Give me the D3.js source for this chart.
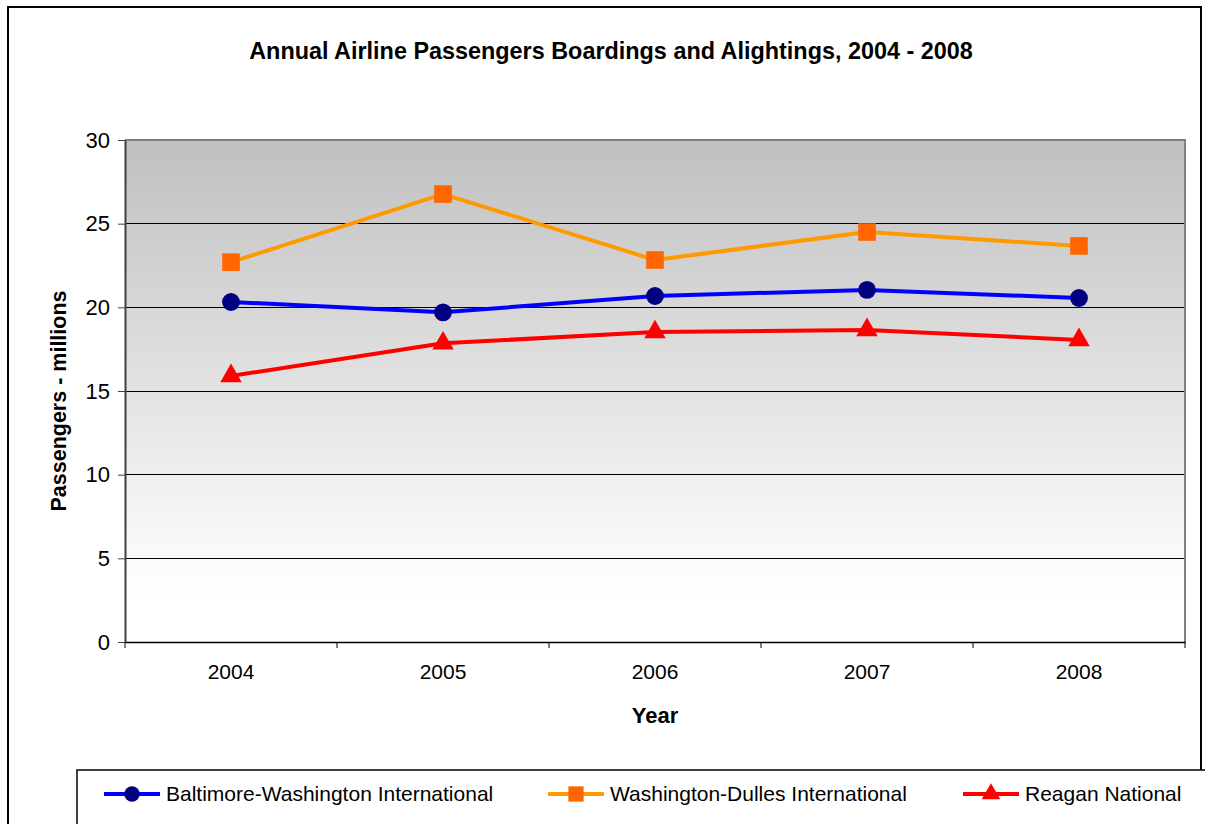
<!DOCTYPE html>
<html><head><meta charset="utf-8">
<script src="https://cdn.jsdelivr.net/npm/d3@7"></script>
<style>body{margin:0;background:#fff;font-family:Arial,"Liberation Sans",sans-serif;}</style>
</head><body><svg id="c" width="1205" height="824"></svg>
<script>
const years = ["2004","2005","2006","2007","2008"];
const bwi = [20.32, 19.70, 20.68, 21.04, 20.56];
const iad = [22.70, 26.77, 22.83, 24.50, 23.67];
const dca = [15.90, 17.85, 18.52, 18.65, 18.05];
const yTicks = [0,5,10,15,20,25,30];
const seriesNames = ["Baltimore-Washington International","Washington-Dulles International","Reagan National"];

const FONT = "Arial,'Liberation Sans',sans-serif";
const svg = d3.select("#c").attr("font-family",FONT);
const L=125, R=1185, T=140, B=642;
const x = d3.scaleBand().domain(years).range([L,R]);
const y = d3.scaleLinear().domain([0,30]).range([B,T]);

// outer border
svg.append("rect").attr("x",8).attr("y",7).attr("width",1193).attr("height",840)
  .attr("fill","#fff").attr("stroke","#000").attr("stroke-width",2);

// gradient
const defs = svg.append("defs");
const g = defs.append("linearGradient").attr("id","bg").attr("x1",0).attr("y1",0).attr("x2",0).attr("y2",1);
g.append("stop").attr("offset",0).attr("stop-color","#c0c0c0");
g.append("stop").attr("offset",0.91).attr("stop-color","#ffffff");
g.append("stop").attr("offset",1).attr("stop-color","#ffffff");
svg.append("rect").attr("x",L).attr("y",T).attr("width",R-L).attr("height",B-T).attr("fill","url(#bg)");

// gridlines
svg.append("g").selectAll("line").data(yTicks.filter(d=>d>0&&d<30)).join("line")
  .attr("x1",L).attr("x2",R).attr("y1",d=>y(d)).attr("y2",d=>y(d))
  .attr("stroke","#000").attr("stroke-width",1).attr("shape-rendering","crispEdges");
// plot border top/right
svg.append("path").attr("d",`M${L},${T}H${R}V${B}`).attr("fill","none")
  .attr("stroke","#808080").attr("stroke-width",2).attr("shape-rendering","crispEdges");

// y axis
const ya = svg.append("g").attr("transform",`translate(${L},0)`)
  .call(d3.axisLeft(y).tickValues(yTicks).tickSize(7).tickPadding(8).tickSizeOuter(0));
ya.select(".domain").attr("stroke","#404040").attr("stroke-width",2);
ya.selectAll(".tick line").attr("stroke","#404040");
ya.selectAll("text").attr("font-size",22).attr("font-family",FONT).attr("fill","#000");

// x axis
const xa = svg.append("g").attr("transform",`translate(0,${B})`)
  .call(d3.axisBottom(x).tickSize(0).tickPadding(22));
xa.select(".domain").attr("stroke","#000").attr("stroke-width",1.5);
xa.selectAll("text").attr("font-size",21).attr("font-family",FONT).attr("fill","#000");
const bounds = years.map(d=>x(d)).concat([R]);
svg.append("g").selectAll("line").data(bounds).join("line")
  .attr("x1",d=>d).attr("x2",d=>d).attr("y1",B).attr("y2",B+6).attr("stroke","#000");

// titles
svg.append("text").attr("x",611).attr("y",59).attr("text-anchor","middle")
  .attr("font-size",23.4).attr("font-weight","bold").text("Annual Airline Passengers Boardings and Alightings, 2004 - 2008");
svg.append("text").attr("x",655).attr("y",723).attr("text-anchor","middle")
  .attr("font-size",22).attr("font-weight","bold").text("Year");
svg.append("text").attr("transform",`translate(66,401) rotate(-90)`).attr("text-anchor","middle")
  .attr("font-size",21.5).attr("font-weight","bold").text("Passengers - millions");

// series
const series = [
  {name:seriesNames[0], vals:bwi, line:"#0000ff", fill:"#000080", sym:d3.symbolCircle, size:250},
  {name:seriesNames[1], vals:iad, line:"#ff9900", fill:"#ff6600", sym:d3.symbolSquare, size:310},
  {name:seriesNames[2], vals:dca, line:"#ff0000", fill:"#ff0000", sym:d3.symbolTriangle, size:200}
];
const cx = d=>x(d)+x.bandwidth()/2;
const lineGen = d3.line().x((v,i)=>cx(years[i])).y(v=>y(v));
series.forEach(s=>{
  svg.append("path").datum(s.vals).attr("d",lineGen).attr("fill","none")
    .attr("stroke",s.line).attr("stroke-width",4).attr("stroke-linejoin","round");
  svg.append("g").selectAll("path").data(s.vals).join("path")
    .attr("d",d3.symbol().type(s.sym).size(s.size))
    .attr("transform",(v,i)=>`translate(${cx(years[i])},${y(v)})`)
    .attr("fill",s.fill);
});

// legend
svg.append("rect").attr("x",77).attr("y",770).attr("width",1140).attr("height",80)
  .attr("fill","#fff").attr("stroke","#000").attr("stroke-width",1.5);
const legX = [104, 548, 963];
const legY = 794;
series.forEach((s,i)=>{
  const lg = svg.append("g").attr("transform",`translate(${legX[i]},${legY})`);
  lg.append("line").attr("x1",0).attr("x2",56).attr("stroke",s.line).attr("stroke-width",4);
  lg.append("path").attr("d",d3.symbol().type(s.sym).size(s.size*0.75)).attr("transform","translate(28,0)").attr("fill",s.fill);
  lg.append("text").attr("x",62).attr("y",7).attr("font-size",21).text(s.name);
});
</script></body></html>
